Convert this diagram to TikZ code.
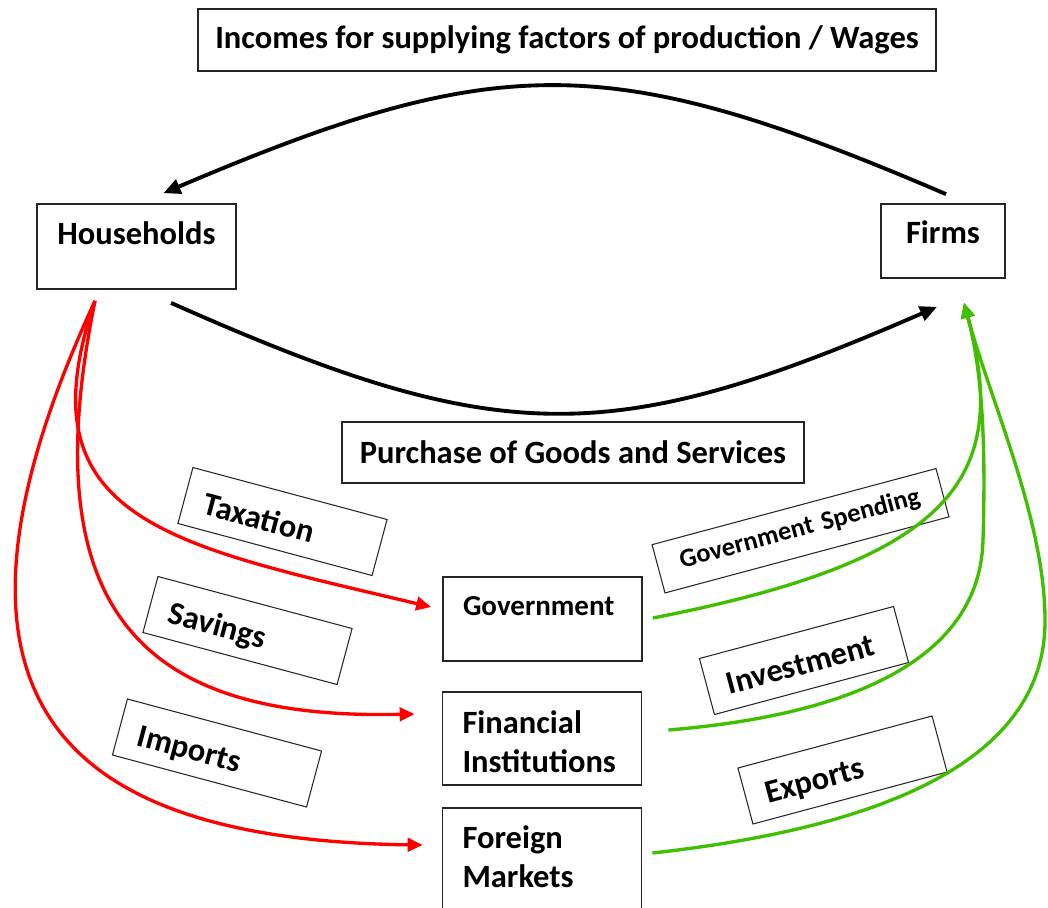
\documentclass[tikz,border=0pt]{standalone}
\usepackage{fontspec}
\setmainfont{Carlito}
\usetikzlibrary{arrows.meta,calc}
\definecolor{flowgreen}{RGB}{64,190,0}

\begin{document}
\begin{tikzpicture}[x=0.02cm,y=-0.02cm,>={Triangle[length=0.34cm,width=0.3cm]}]

    \tikzstyle{commonNode}=[draw=black!85, line width=1pt, font=\fontsize{18.5}{22.2}\selectfont\bfseries, inner sep=0pt]
    \tikzstyle{banner}=[commonNode, minimum height=1.23cm]
    \tikzstyle{sector}=[commonNode, text width=3.98cm, align=center]
    \tikzstyle{leak}=[commonNode, text width=3.18cm, inner xsep=0.4cm, align=left]
    \tikzstyle{tag}=[commonNode, line width=0.6pt, text width=3.22cm, inner xsep=0.4cm, align=left, text height=0.85cm, text depth=0.31cm]
    \tikzstyle{money}=[line width=2.2pt, ->]
    \tikzstyle{withdrawal}=[line width=1.9pt, color=red, -{Triangle[length=0.3cm,width=0.27cm]}]
    \tikzstyle{injection}=[withdrawal, color=flowgreen]

    % Page
    \fill[white] (0,0) rectangle (1048,907);
    \useasboundingbox (0,0) rectangle (1048,907);

    \begin{scope}
        % Banners
        \node at (567,40)    [banner, minimum width=14.76cm] (wages)    {Incomes for supplying factors of production / Wages};
        \node at (573,452.5) [banner, minimum width=9.24cm]  (purchase) {Purchase of Goods and Services};

        % Sectors
        \node at (136.5,246.5) [sector, text height=0.8cm, text depth=0.9cm] (hh) {Households};
        \node at (943,241)     [sector, text width=2.48cm, text height=0.78cm, text depth=0.7cm] (firms) {Firms};

        % Leakages and injections
        \node at (542.5,619) [leak, font=\fontsize{16.5}{20}\selectfont\bfseries, text height=0.76cm, text depth=0.92cm] (gov) {Government};
        \node at (542,738.5) [leak, text height=0.82cm, text depth=1.04cm] (fin)     {Financial\\Institutions};
        \node at (542,861.5) [leak, text height=0.8cm, text depth=1.34cm]  (foreign) {Foreign\\Markets};

        % Labels on the flows
        \node at (282.5,521.5) [tag, rotate=-15] (tax) {Taxation};
        \node at (247.5,630.5) [tag, rotate=-15] (sav) {Savings};
        \node at (217,753)     [tag, rotate=-15] (imp) {Imports};
        \node at (800.5,530.75) [tag, rotate=15, font=\fontsize{15}{18}\selectfont\bfseries, text width=4.96cm, inner xsep=0.46cm, text height=0.61cm, text depth=0.39cm] (spend) {Government Spending};
        \node at (804,660.5)   [tag, rotate=15] (inv) {Investment};
        \node at (842.5,770)   [tag, rotate=15] (exp) {Exports};

        % Circular flow
        \draw [money] ($(firms.north)+(3,-9)$) .. controls (610,50) and (500,50) .. ($(hh.north)+(27,-10)$);
        \draw [money] ($(hh.south)+(34.5,13)$) .. controls (500,449) and (610,449) .. ($(firms.south)+(-6,28)$);

        % Leakages
        \coordinate (out) at ($(hh.south)+(-41.5,11)$);
        \draw [withdrawal] (out) .. controls (20,520) and (170,545) .. ($(gov.west)+(-11,-12)$);
        \draw [withdrawal] (out) .. controls (30,620) and (150,720) .. ($(fin.west)+(-27,-24.5)$);
        \draw [withdrawal] (out) .. controls (-90,700) and (60,840) .. ($(foreign.west)+(-19,-16.5)$);

        % Injections
        \coordinate (back) at ($(firms.south)+(21,24)$);
        \draw [injection] ($(gov.east)+(10,-1)$) .. controls (950,560) and (1012,480) .. (back);
        \draw [injection] ($(fin.east)+(26,-8.5)$) .. controls (850,715) and (980,660) .. (983,540)
            .. controls (986,440) and (982,370) .. (back);
        \draw [injection] ($(foreign.east)+(10,-8.5)$) .. controls (860,830) and (1046,770) .. (1045,620)
            .. controls (1045,520) and (990,400) .. (back);
    \end{scope}

\end{tikzpicture}
\end{document}
